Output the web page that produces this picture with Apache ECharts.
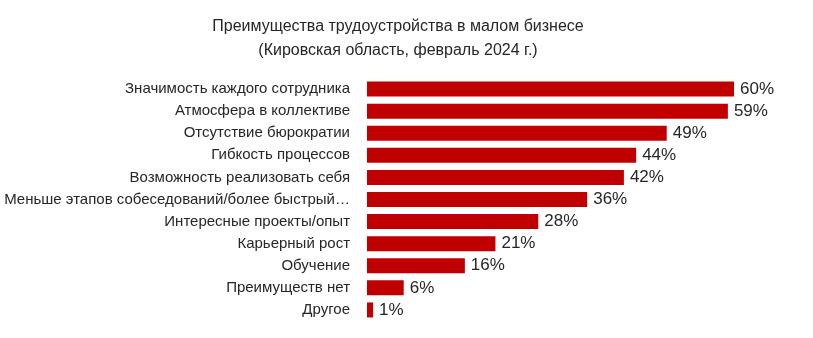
<!DOCTYPE html>
<html>
<head>
<meta charset="utf-8">
<script src="https://cdn.jsdelivr.net/npm/echarts@6/dist/echarts.min.js"></script>
<style>html,body{margin:0;padding:0;background:#fff}#c{width:813px;height:338px}</style>
</head>
<body>
<div id="c"></div>
<script>
const titleLines = ['Преимущества трудоустройства в малом бизнесе', '(Кировская область, февраль 2024 г.)'];
const categories = [
  'Значимость каждого сотрудника',
  'Атмосфера в коллективе',
  'Отсутствие бюрократии',
  'Гибкость процессов',
  'Возможность реализовать себя',
  'Меньше этапов собеседований/более быстрый…',
  'Интересные проекты/опыт',
  'Карьерный рост',
  'Обучение',
  'Преимуществ нет',
  'Другое'
];
const values = [60, 59, 49, 44, 42, 36, 28, 21, 16, 6, 1];

const chart = echarts.init(document.getElementById('c'), null, {renderer: 'canvas'});
chart.setOption({
  animation: false,
  backgroundColor: '#fff',
  title: {
    text: titleLines.join('\n'),
    left: 393,
    top: 10,
    textAlign: 'center',
    textStyle: {fontFamily: 'Liberation Sans', fontSize: 16, fontWeight: 'normal', color: '#262626', lineHeight: 24}
  },
  grid: {left: 367, right: 79, top: 78, bottom: 17, containLabel: false},
  xAxis: {type: 'value', min: 0, max: 60, show: false},
  yAxis: {
    type: 'category',
    inverse: true,
    data: categories,
    axisLine: {show: false},
    axisTick: {show: false},
    axisLabel: {margin: 17, fontFamily: 'Liberation Sans', fontSize: 15, color: '#262626'}
  },
  series: [{
    type: 'bar',
    data: values,
    barWidth: '68%',
    itemStyle: {color: '#C00000'},
    label: {show: true, position: 'right', distance: 6, formatter: '{c}%', fontFamily: 'Liberation Sans', fontSize: 17, color: '#262626'}
  }]
});
</script>
</body>
</html>
